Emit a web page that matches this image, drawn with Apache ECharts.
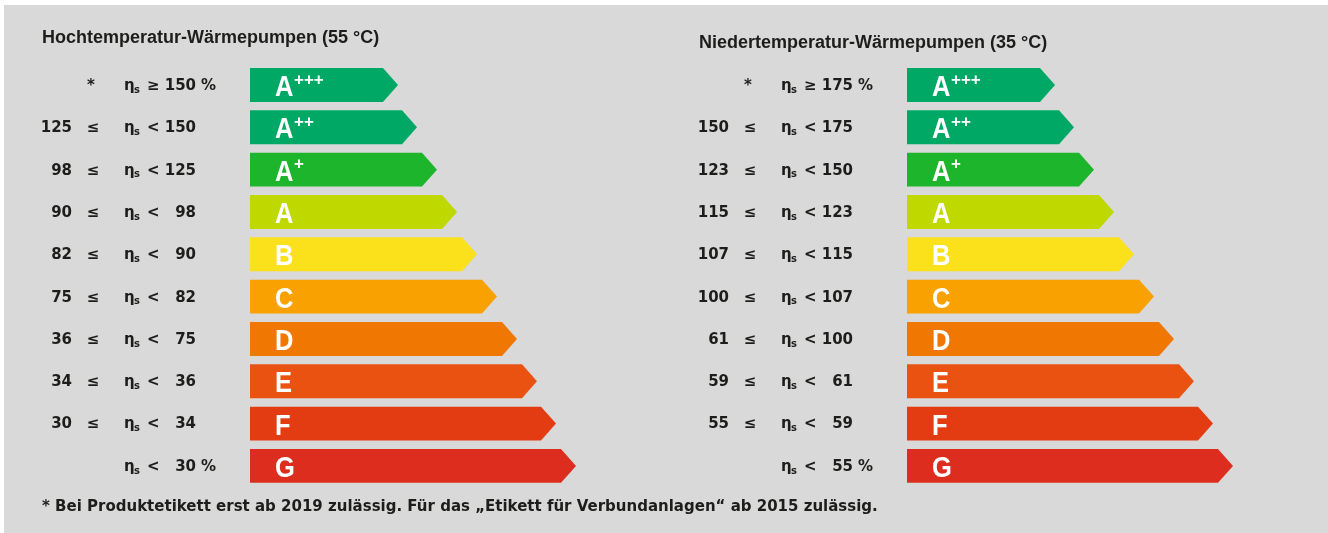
<!DOCTYPE html>
<html>
<head>
<meta charset="utf-8">
<script src="https://cdn.jsdelivr.net/npm/echarts@6/dist/echarts.min.js"></script>
<style>
  html, body { margin: 0; padding: 0; background: #fff; }
  #chart { width: 1328px; height: 533px; }
</style>
</head>
<body>
<div id="chart"></div>
<script>
// Effizienzklassen Wärmepumpen
var classes = ['A+++', 'A++', 'A+', 'A', 'B', 'C', 'D', 'E', 'F', 'G'];
var arrowLen = [148, 167, 187, 207, 227, 247, 267, 287, 306, 326];
var classColors = ['#00a866', '#00a866', '#1db52b', '#bfd800', '#fbe11b',
                   '#f8a100', '#f07701', '#ea5211', '#e33b12', '#dc2d1e'];

// 55 °C
var hochLow  = ['', '125', '98', '90', '82', '75', '36', '34', '30', ''];
var hochHigh = ['150', '150', '125', '98', '90', '82', '75', '36', '34', '30'];
// 35 °C
var niedLow  = ['', '150', '123', '115', '107', '100', '61', '59', '55', ''];
var niedHigh = ['175', '175', '150', '123', '115', '107', '100', '61', '59', '55'];

var titles = ['Hochtemperatur-Wärmepumpen (55 °C)', 'Niedertemperatur-Wärmepumpen (35 °C)'];
var footnote = '* Bei Produktetikett erst ab 2019 zulässig. Für das \u201EEtikett für Verbundanlagen\u201C ab 2015 zulässig.';

var chart = echarts.init(document.getElementById('chart'));

var txtFont = 'DejaVu Sans';
var txtColor = '#1d1d1b';

function txt(x, y, s, align, size, weight) {
    return {
        type: 'text',
        style: {
            x: x, y: y, text: s,
            fill: txtColor,
            font: (weight || 'bold') + ' ' + (size || 15) + 'px "' + txtFont + '"',
            textAlign: align || 'left',
            textVerticalAlign: 'middle'
        }
    };
}

function arrowSeries(idx, lows, highs) {
    return {
        type: 'custom',
        xAxisIndex: idx,
        yAxisIndex: idx,
        silent: true,
        encode: { x: 1, y: 0 },
        data: classes.map(function (c, i) { return [i, arrowLen[i]]; }),
        renderItem: function (params, api) {
            var i = api.value(0);
            var s = api.coord([0, i]);
            var e = api.coord([api.value(1), i]);
            var band = api.size([0, 1])[1];
            var h = band * 0.8;
            var x0 = s[0], x1 = e[0], cy = s[1];
            var tip = 15;
            var name = classes[i];
            var base = name.charAt(0);
            var sup = name.slice(1);
            var last = classes.length - 1;

            var kids = [{
                type: 'polygon',
                shape: { points: [[x0, cy - h / 2], [x1 - tip, cy - h / 2], [x1, cy],
                                  [x1 - tip, cy + h / 2], [x0, cy + h / 2]] },
                style: { fill: classColors[i] }
            }, {
                // schmale Klassenbuchstaben
                type: 'text',
                x: x0 + 25, y: cy + 3, scaleX: 0.88,
                style: {
                    x: 0, y: 0, text: base, fill: '#fff',
                    font: 'bold 29px "Liberation Sans"',
                    textVerticalAlign: 'middle'
                }
            }];
            if (sup) {
                kids.push({
                    type: 'text',
                    style: {
                        x: x0 + 44, y: cy - 5, text: sup, fill: '#fff',
                        font: 'bold 17px "Liberation Sans"',
                        textVerticalAlign: 'middle'
                    }
                });
            }

            // Grenzwerte links neben dem Pfeil
            if (i === 0) {
                kids.push(txt(x0 - 159, cy + 1, '*', 'center'));
            } else if (i !== last) {
                kids.push(txt(x0 - 178, cy + 1, lows[i], 'right'));
                kids.push(txt(x0 - 157, cy + 1, '≤', 'center'));
            }
            kids.push(txt(x0 - 126, cy + 1, 'η', 'left', 15));
            kids.push(txt(x0 - 116, cy + 5, 's', 'left', 10));
            kids.push(txt(x0 - 103, cy + 1, i === 0 ? '≥' : '<', 'left'));
            kids.push(txt(x0 - 54, cy + 1, highs[i], 'right'));
            if (i === 0 || i === last) {
                kids.push(txt(x0 - 49, cy + 1, '%', 'left'));
            }
            return { type: 'group', children: kids };
        }
    };
}

var option = {
    backgroundColor: '#fff',
    animation: false,
    graphic: [{
        type: 'rect',
        left: 4, top: 5, z: -10,
        shape: { width: 1324, height: 528 },
        style: { fill: '#d9d9d9' }
    }, {
        type: 'text',
        left: 42, top: 500,
        style: {
            text: footnote, fill: txtColor,
            font: 'bold 15px "DejaVu Sans"'
        }
    }],
    title: [{
        text: titles[0], left: 42, top: 29, padding: 0,
        textStyle: { fontFamily: 'Liberation Sans', fontSize: 18, fontWeight: 'bold', color: txtColor }
    }, {
        text: titles[1], left: 699, top: 34, padding: 0,
        textStyle: { fontFamily: 'Liberation Sans', fontSize: 18, fontWeight: 'bold', color: txtColor }
    }],
    grid: [
        { left: 250, top: 63.8, width: 400, height: 423.3 },
        { left: 907, top: 63.8, width: 400, height: 423.3 }
    ],
    xAxis: [
        { type: 'value', gridIndex: 0, min: 0, max: 400, show: false },
        { type: 'value', gridIndex: 1, min: 0, max: 400, show: false }
    ],
    yAxis: [
        { type: 'category', gridIndex: 0, data: classes, inverse: true, show: false },
        { type: 'category', gridIndex: 1, data: classes, inverse: true, show: false }
    ],
    series: [
        arrowSeries(0, hochLow, hochHigh),
        arrowSeries(1, niedLow, niedHigh)
    ]
};

chart.setOption(option);
</script>
</body>
</html>
